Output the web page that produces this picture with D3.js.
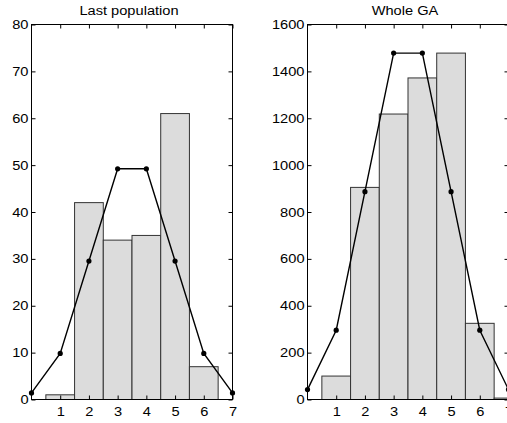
<!DOCTYPE html>
<html><head><meta charset="utf-8">
<script src="https://cdn.jsdelivr.net/npm/d3@7"></script>
<style>
body{margin:0;background:#fff;}
svg text{font-family:"Liberation Sans",Arial,Helvetica,sans-serif;}
</style></head>
<body><svg id="c" width="507" height="423"></svg>
<script>
const categories = [1,2,3,4,5,6,7];
const lastPopBars = [1,42,34,35,61,7,0];
const wholeGABars = [100,905,1218,1372,1478,325,6];
const linePositions = [0,1,2,3,4,5,6,7];
const lastPopLine = [1.41,9.84,29.53,49.22,49.22,29.53,9.84,1.41];
const wholeGALine = [42.2,295.6,886.8,1478,1478,886.8,295.6,42.2];
const lastPopYTicks = [0,10,20,30,40,50,60,70,80];
const wholeGAYTicks = [0,200,400,600,800,1000,1200,1400,1600];
const xTicks = [1,2,3,4,5,6,7];
const titles = ["Last population","Whole GA"];

const svg = d3.select("#c");
const stretch = 1.17;
function widen(sel){
  sel.each(function(){
    const w = this.getComputedTextLength();
    if (w > 0) d3.select(this).attr("textLength", w*stretch).attr("lengthAdjust","spacingAndGlyphs");
  });
}

function panel(cfg){
  const x = d3.scaleLinear().domain([0,7]).range([cfg.x0,cfg.x1]);
  const y = d3.scaleLinear().domain([0,cfg.ymax]).range([cfg.yb,cfg.yt]);
  const g = svg.append("g");
  g.selectAll("rect.bar").data(categories.map((c,i)=>({c,v:cfg.bars[i]}))).enter()
    .append("rect").attr("class","bar")
    .attr("x",d=>x(d.c-0.5)).attr("width",d=>x(d.c+0.5)-x(d.c-0.5))
    .attr("y",d=>y(d.v)).attr("height",d=>y(0)-y(d.v))
    .attr("fill","#dcdcdc").attr("stroke","#333").attr("stroke-width",1);
  const pts = linePositions.map((p,i)=>[p,cfg.line[i]]);
  g.append("path").datum(pts)
    .attr("d",d3.line().x(d=>x(d[0])).y(d=>y(d[1])))
    .attr("fill","none").attr("stroke","#000").attr("stroke-width",1.4);
  g.selectAll("circle").data(pts).enter().append("circle")
    .attr("cx",d=>x(d[0])).attr("cy",d=>y(d[1])).attr("r",2.6).attr("fill","#000");
  const fs = "12.5px";
  const ax = (a)=>a.call(s=>{s.select(".domain").remove(); s.selectAll("text").style("font-size",fs).attr("fill","#000").call(widen); s.selectAll("line").attr("stroke","#000");});
  g.append("g").attr("transform",`translate(${cfg.x0},0)`)
    .call(d3.axisLeft(y).tickValues(cfg.yticks).tickSize(-4).tickPadding(3).tickFormat(d3.format("d"))).call(ax);
  g.append("g").attr("transform",`translate(${cfg.x1},0)`)
    .call(d3.axisRight(y).tickValues(cfg.yticks).tickSize(-4).tickFormat("")).call(ax);
  g.append("g").attr("transform",`translate(0,${cfg.yb})`)
    .call(d3.axisBottom(x).tickValues(xTicks).tickSize(-4).tickPadding(8).tickFormat(d3.format("d"))).call(ax);
  g.append("g").attr("transform",`translate(0,${cfg.yt})`)
    .call(d3.axisTop(x).tickValues(xTicks).tickSize(-4).tickFormat("")).call(ax);
  g.append("rect").attr("x",cfg.x0).attr("y",cfg.yt).attr("width",cfg.x1-cfg.x0).attr("height",cfg.yb-cfg.yt)
    .attr("fill","none").attr("stroke","#000").attr("stroke-width",1);
  g.append("text").attr("x",(cfg.x0+cfg.x1)/2 - 3).attr("y",cfg.yt-10).attr("text-anchor","middle")
    .style("font-size","12.5px").text(cfg.title).call(widen);
}

panel({x0:31.5,x1:232.5,yt:24.5,yb:399.5,ymax:80,bars:lastPopBars,line:lastPopLine,yticks:lastPopYTicks,title:titles[0]});
panel({x0:307.5,x1:508.5,yt:24.5,yb:399.5,ymax:1600,bars:wholeGABars,line:wholeGALine,yticks:wholeGAYTicks,title:titles[1]});
</script></body></html>
